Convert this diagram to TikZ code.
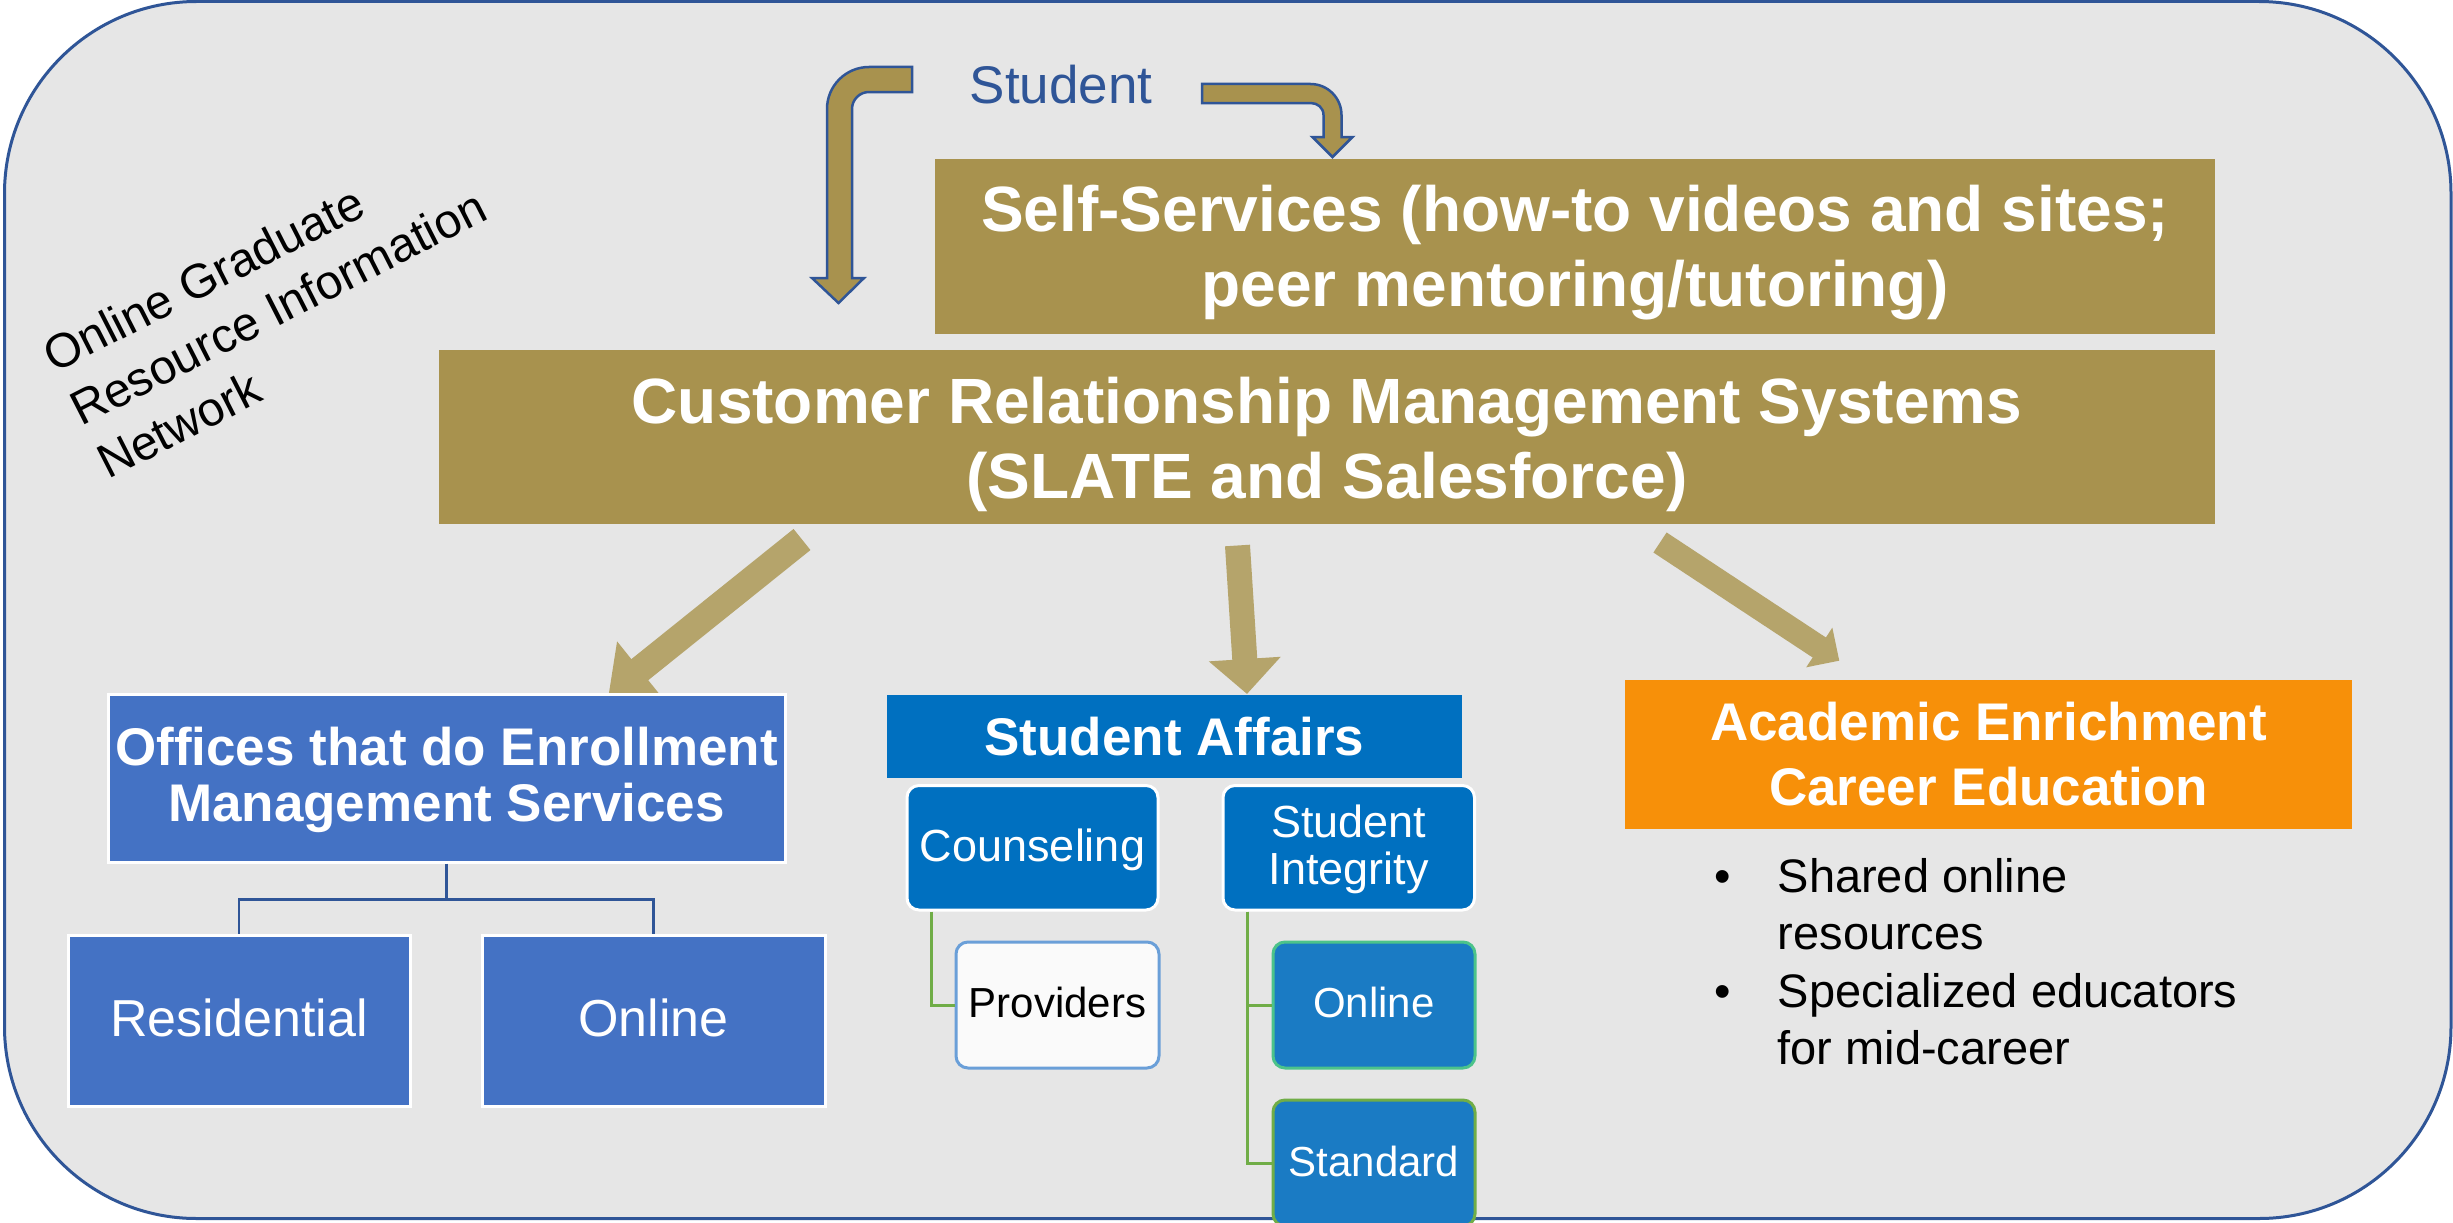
\documentclass[tikz,border=0pt]{standalone}
\usepackage{fontspec}
\setmainfont{Liberation Sans}
\usetikzlibrary{arrows.meta}
\definecolor{bggray}{HTML}{E6E6E6}
\definecolor{bordblue}{HTML}{2F5597}
\definecolor{ctan}{HTML}{A8924E}
\definecolor{carrow}{HTML}{B5A46B}
\definecolor{cembl}{HTML}{4472C4}
\definecolor{csabl}{HTML}{0070C0}
\definecolor{csabl2}{HTML}{1A7BC4}
\definecolor{cprov}{HTML}{6A9FD8}
\definecolor{conl}{HTML}{4CC38A}
\definecolor{cgrn}{HTML}{70AD47}
\definecolor{corng}{HTML}{F79009}
\begin{document}
\begin{tikzpicture}[x=1pt,y=-1pt,
  tanbox/.style={fill=ctan, inner sep=0pt, outer sep=0pt},
  embox/.style={fill=cembl, draw=white, line width=3pt, inner sep=0pt},
  sabox/.style={fill=csabl, inner sep=0pt},
  sarbox/.style={fill=csabl, draw=white, line width=3pt, rounded corners=12pt, inner sep=0pt},
  provbox/.style={fill=white!98!black, draw=cprov, line width=3pt, rounded corners=12pt, inner sep=0pt},
  onlbox/.style={fill=csabl2, draw=conl, line width=3pt, rounded corners=12pt, inner sep=0pt},
  stdbox/.style={fill=csabl2, draw=cgrn, line width=3pt, rounded corners=12pt, inner sep=0pt},
  orbox/.style={fill=corng, inner sep=0pt},
  bigtxt/.style={inner sep=0pt, anchor=base, text=white, font=\fontsize{64}{75}\selectfont\bfseries},
  hdtxt/.style={inner sep=0pt, anchor=base, text=white, font=\fontsize{53}{60}\selectfont\bfseries},
  regtxt/.style={inner sep=0pt, anchor=base, text=white, font=\fontsize{52}{60}\selectfont},
  smtxt/.style={inner sep=0pt, anchor=base, text=white, font=\fontsize{45}{50}\selectfont},
  xstxt/.style={inner sep=0pt, anchor=base, text=white, font=\fontsize{42}{48}\selectfont},
  blktxt/.style={inner sep=0pt, text=black, font=\fontsize{47}{57}\selectfont},
  rottxt/.style={inner sep=0pt, text=black, font=\fontsize{48}{59}\selectfont, rotate=27, anchor=base west},
  bentarrow/.style={fill=ctan, draw=bordblue, line width=2.5pt, line join=miter},
  blockarrow/.style={draw=carrow, line cap=butt},
  orgline/.style={draw=bordblue, line width=2.5pt},
  grnline/.style={draw=cgrn, line width=3pt},
]
\useasboundingbox (0,0) rectangle (2453,1223);
\clip (0,0) rectangle (2453,1223);
\fill[white] (0,0) rectangle (2453,1223);
% outer frame
\draw[draw=bordblue, line width=3pt, fill=bggray, rounded corners=192pt] (4.5,1.5) rectangle (2451,1218.5);

% Student and bent arrows
\node[inner sep=0pt, anchor=base, text=bordblue, font=\fontsize{53}{60}\selectfont] (student) at (1061,103) {Student};
\draw[bentarrow] (827,278) -- (827,109) .. controls (827,85.8) and (845.8,67) .. (869,67)
  -- (912,67) -- (912,92) -- (869,92) .. controls (859.6,92) and (852,99.6) .. (852,109)
  -- (852,278) -- (864,278) -- (838.5,303) -- (812,278) -- cycle;
\draw[bentarrow] (1202,84) -- (1310.5,84) .. controls (1327.6,84) and (1341.5,97.9) .. (1341.5,115)
  -- (1341.5,137) -- (1352.5,137) -- (1332.5,157) -- (1312.5,137) -- (1323.5,137) -- (1323.5,115)
  .. controls (1323.5,107.8) and (1317.7,103) .. (1310.5,103) -- (1202,103) -- cycle;

% Self-services and CRM
\node[tanbox, minimum width=1280pt, minimum height=175pt] (self) at (1575,246.5) {};
\node[bigtxt] (selft1) at (1575,231) {Self-Services (how-to videos and sites;};
\node[bigtxt] (selft2) at (1575,306) {peer mentoring/tutoring)};
\node[tanbox, minimum width=1776pt, minimum height=174pt] (crm) at (1327,437) {};
\node[bigtxt] (crmt1) at (1327,423) {Customer Relationship Management Systems};
\node[bigtxt] (crmt2) at (1327,498) {(SLATE and Salesforce)};

% rotated label
\node[rottxt] (og1) at (54,374) {Online Graduate};
\node[rottxt] (og2) at (81,427) {Resource Information};
\node[rottxt] (og3) at (108,480) {Network};

% block arrows
\coordinate (a1s) at (802,539.5); \coordinate (a1e) at (608.6,694.7);
\coordinate (a2s) at (1237.5,545.5); \coordinate (a2e) at (1247,694);
\coordinate (a3s) at (1660,542.5); \coordinate (a3e) at (1839.3,660.7);
\draw[blockarrow, line width=27pt, -{Triangle[width=70pt,length=40pt]}] (a1s) -- (a1e);
\draw[blockarrow, line width=25pt, -{Triangle[width=70pt,length=35pt]}] (a2s) -- (a2e);
\draw[blockarrow, line width=24pt, -{Triangle[width=46pt,length=24pt]}] (a3s) -- (a3e);

% Enrollment management
\node[embox, minimum width=677pt, minimum height=168pt] (offices) at (446.5,778) {};
\node[hdtxt] (offt1) at (446.5,765.5) {Offices that do Enrollment};
\node[hdtxt] (offt2) at (446.5,821) {Management Services};
\node[embox, minimum width=342pt, minimum height=171pt] (resid) at (239,1020.5) {};
\node[regtxt] (residt) at (239,1036) {Residential};
\node[embox, minimum width=343pt, minimum height=171pt] (onlem) at (653.5,1020.5) {};
\node[regtxt] (onlemt) at (653.5,1036) {Online};
\draw[orgline] (offices.south) -- ++(0,36) coordinate (ob);
\draw[orgline] (ob) -| (resid.north);
\draw[orgline] (ob) -| (onlem.north);

% Student affairs
\node[sabox, minimum width=575pt, minimum height=83pt] (sa) at (1174.5,736.5) {};
\node[hdtxt] (sat) at (1174.5,755.5) {Student Affairs};
\node[sarbox, minimum width=251pt, minimum height=124.5pt] (couns) at (1032.5,847.75) {};
\node[smtxt] (counst) at (1032.5,861) {Counseling};
\node[sarbox, minimum width=251.5pt, minimum height=124.5pt] (integ) at (1348.75,847.75) {};
\node[smtxt] (integt1) at (1348.75,837.4) {Student};
\node[smtxt] (integt2) at (1348.75,884) {Integrity};
\node[provbox, minimum width=203pt, minimum height=126pt] (prov) at (1057.5,1005) {};
\node[xstxt, text=black] (provt) at (1057.5,1017) {Providers};
\node[onlbox, minimum width=202pt, minimum height=126pt] (saonl) at (1374,1005) {};
\node[xstxt] (saonlt) at (1374,1017) {Online};
\node[stdbox, minimum width=202pt, minimum height=126pt] (std) at (1374,1163) {};
\node[xstxt] (stdt) at (1374,1176.7) {Standard};
\draw[grnline] ([xshift=-101pt]couns.south) |- (prov.west);
\draw[grnline] ([xshift=-101pt]integ.south) |- (saonl.west);
\draw[grnline] ([xshift=-101pt]integ.south) |- (std.west);

% Academic enrichment
\node[orbox, minimum width=727pt, minimum height=149pt] (acad) at (1988.5,754.5) {};
\node[hdtxt] (acadt1) at (1988.5,740.7) {Academic Enrichment};
\node[hdtxt] (acadt2) at (1988.5,805) {Career Education};
\node[blktxt, anchor=base] (b1) at (1723,892.8) {•};
\node[blktxt, anchor=base west] (b1t1) at (1777.5,892.8) {Shared online};
\node[blktxt, anchor=base west] (b1t2) at (1777.5,949.5) {resources};
\node[blktxt, anchor=base] (b2) at (1723,1007) {•};
\node[blktxt, anchor=base west] (b2t1) at (1777.5,1007) {Specialized educators};
\node[blktxt, anchor=base west] (b2t2) at (1777.5,1064.8) {for mid-career};
\end{tikzpicture}
\end{document}
